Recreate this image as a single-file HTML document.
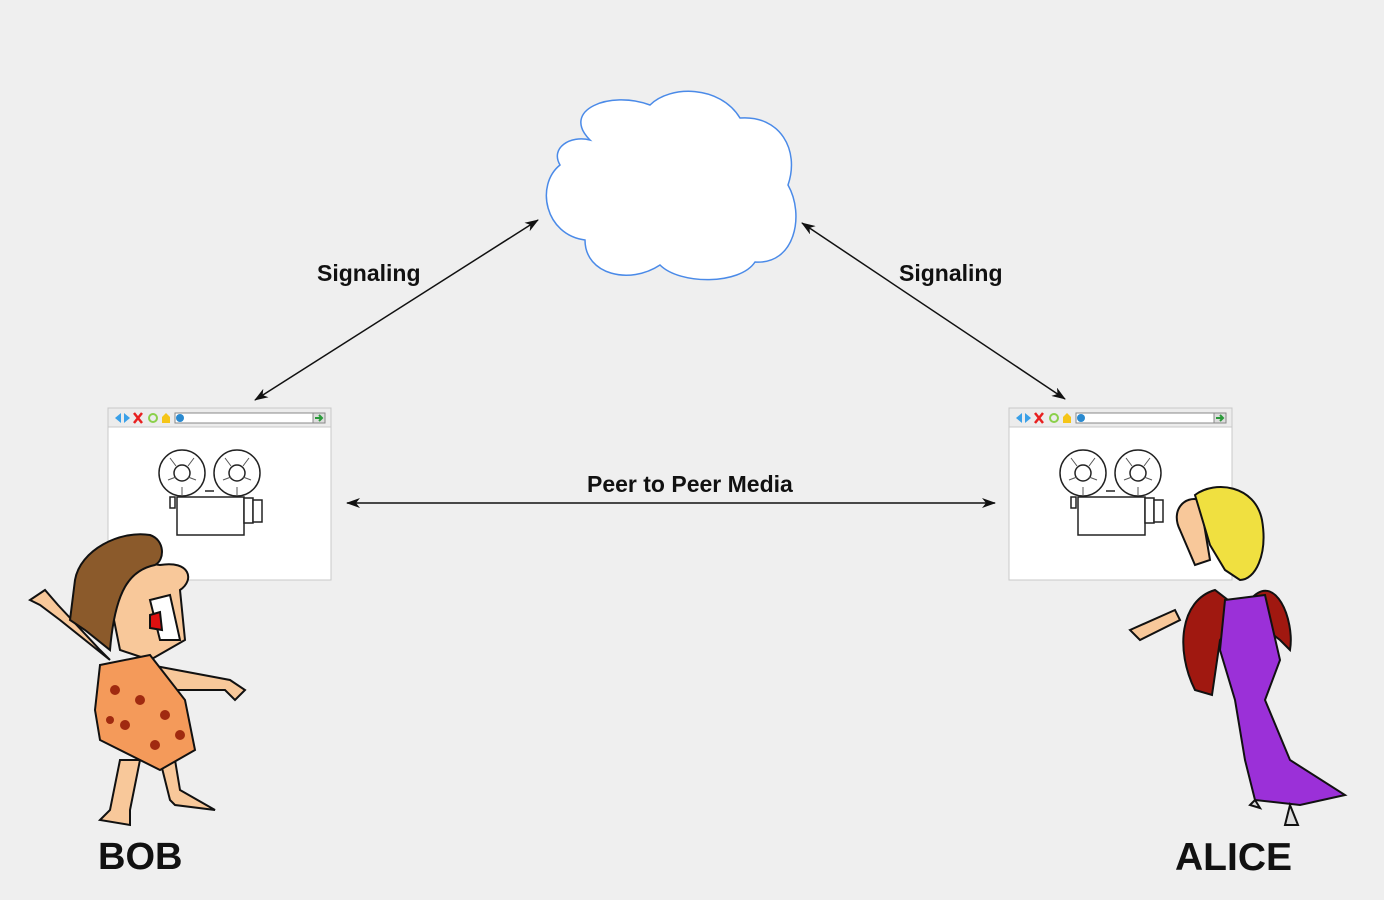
<!DOCTYPE html>
<html><head><style>
html,body{margin:0;padding:0;background:#efefef;}
body{width:1384px;height:900px;overflow:hidden;position:relative;font-family:"Liberation Sans",Arial,sans-serif;}
.t{position:absolute;font-weight:bold;color:#111;white-space:nowrap;}
</style></head><body>
<svg width="1384" height="900" style="position:absolute;left:0;top:0">
<defs>
<marker id="ah" markerWidth="14" markerHeight="10" refX="13" refY="5" orient="auto-start-reverse" markerUnits="userSpaceOnUse">
<path d="M0,0 L14,5 L0,10 L4,5 z" fill="#111"/></marker>
<g id="browser">
<rect x="0" y="0" width="223" height="172" fill="#fff" stroke="#c8c8c8"/>
<rect x="0" y="0" width="223" height="19" fill="#ececec" stroke="#c8c8c8"/>
<path d="M7,10 L13,5 L13,15z" fill="#3aa0e8"/><path d="M22,10 L16,5 L16,15z" fill="#3aa0e8"/>
<path d="M26,5 L34,15 M34,5 L26,15" stroke="#e82020" stroke-width="2.5"/>
<circle cx="45" cy="10" r="4" fill="none" stroke="#8bd04a" stroke-width="2"/>
<path d="M54,15 L54,9 L58,5 L62,9 L62,15z" fill="#f5c518"/>
<rect x="67" y="5" width="140" height="10" fill="#fff" stroke="#888"/>
<circle cx="72" cy="10" r="4" fill="#2a8ad0"/>
<rect x="205" y="5" width="12" height="10" fill="#ddd" stroke="#888"/>
<path d="M207,10 h6 M211,7 l3,3 l-3,3" stroke="#2a9a3a" stroke-width="2" fill="none"/>
<g stroke="#222" stroke-width="1.5" fill="#fff">
<circle cx="74" cy="65" r="23"/><circle cx="74" cy="65" r="8"/>
<circle cx="129" cy="65" r="23"/><circle cx="129" cy="65" r="8"/>
<line x1="97" y1="83" x2="106" y2="83"/>
<rect x="62" y="89" width="5" height="11"/>
<rect x="69" y="89" width="67" height="38"/>
<rect x="136" y="90" width="9" height="25"/><rect x="145" y="92" width="9" height="22"/>
</g>
<g stroke="#555" stroke-width="1" fill="none">
<path d="M62,50 l6,8 M86,50 l-6,8 M60,72 l8,-3 M88,72 l-8,-3 M74,88 v-9"/>
<path d="M117,50 l6,8 M141,50 l-6,8 M115,72 l8,-3 M143,72 l-8,-3 M129,88 v-9"/>
</g>
</g>
</defs>
<path d="M590,140 C560,110 610,90 650,105 C670,85 720,85 740,118 C780,115 800,150 788,185 C805,215 795,265 755,262 C740,285 680,285 660,265 C630,285 585,275 585,240 C545,235 535,185 560,165 C550,148 570,135 590,140 Z" fill="#fff" stroke="#4a8ae8" stroke-width="1.5"/>
<line x1="255" y1="400" x2="538" y2="220" stroke="#111" stroke-width="1.5" marker-start="url(#ah)" marker-end="url(#ah)"/>
<line x1="802" y1="223" x2="1065" y2="399" stroke="#111" stroke-width="1.5" marker-start="url(#ah)" marker-end="url(#ah)"/>
<line x1="347" y1="503" x2="995" y2="503" stroke="#111" stroke-width="1.5" marker-start="url(#ah)" marker-end="url(#ah)"/>
<use href="#browser" x="108" y="408"/>
<use href="#browser" x="1009" y="408"/>
<!-- Bob -->
<g stroke="#111" stroke-width="2">
<path d="M60,620 L40,605 L30,600 L45,590 L58,605 L100,650 L110,660 Z" fill="#f8c89a"/>
<path d="M150,665 L230,680 L245,690 L235,700 L225,690 L150,690 Z" fill="#f8c89a"/>
<path d="M120,760 L110,810 L100,820 L130,825 L130,810 L140,760 Z" fill="#f8c89a"/>
<path d="M160,760 L170,800 L175,805 L215,810 L180,790 L175,760 Z" fill="#f8c89a"/>
<path d="M110,600 C100,570 130,560 160,565 C190,560 195,580 180,590 L185,640 L150,660 L120,650 Z" fill="#f8c89a"/>
<path d="M100,665 L150,655 L185,700 L195,750 L160,770 L100,740 L95,710 Z" fill="#f49a5a"/>
<path d="M75,580 C80,550 120,530 150,535 C165,540 165,560 155,565 C130,570 115,590 110,650 L85,630 L70,620 Z" fill="#8b5a2b"/>
<path d="M150,600 L170,595 L180,640 L160,640 Z" fill="#fff"/>
<path d="M150,615 L160,612 L162,630 L150,628 Z" fill="#e01010"/>
</g>
<g fill="#a02a10"><circle cx="115" cy="690" r="5"/><circle cx="140" cy="700" r="5"/><circle cx="165" cy="715" r="5"/><circle cx="125" cy="725" r="5"/><circle cx="155" cy="745" r="5"/><circle cx="180" cy="735" r="5"/><circle cx="110" cy="720" r="4"/></g>
<!-- Alice -->
<g stroke="#111" stroke-width="2">
<path d="M1215,590 C1180,600 1175,650 1195,690 L1212,695 L1220,640 L1250,600 C1275,570 1295,620 1290,650 L1280,640 Z" fill="#a01810"/>
<path d="M1225,600 L1265,595 L1280,660 L1265,700 L1290,760 L1345,795 L1300,805 L1255,800 L1245,760 L1235,700 L1220,650 Z" fill="#9b30d8"/>
<path d="M1130,630 L1175,610 L1180,620 L1140,640 Z" fill="#f8c89a"/>
<path d="M1180,530 C1170,510 1185,495 1200,500 L1210,560 L1195,565 Z" fill="#f8c89a"/>
<path d="M1195,495 C1215,480 1255,485 1262,520 C1268,555 1255,580 1240,580 L1225,570 L1210,545 Z" fill="#f0e040"/>
<path d="M1255,800 L1250,805 L1260,808 Z M1290,805 L1285,825 L1298,825 Z" fill="#ddd"/>
</g>
</svg>
<div class="t" style="left:317px;top:260px;font-size:23px;">Signaling</div>
<div class="t" style="left:899px;top:260px;font-size:23px;">Signaling</div>
<div class="t" style="left:587px;top:471px;font-size:23px;">Peer to Peer Media</div>
<div class="t" style="left:98px;top:836px;font-size:38px;">BOB</div>
<div class="t" style="left:1175px;top:836px;font-size:39px;">ALICE</div>
</body></html>
